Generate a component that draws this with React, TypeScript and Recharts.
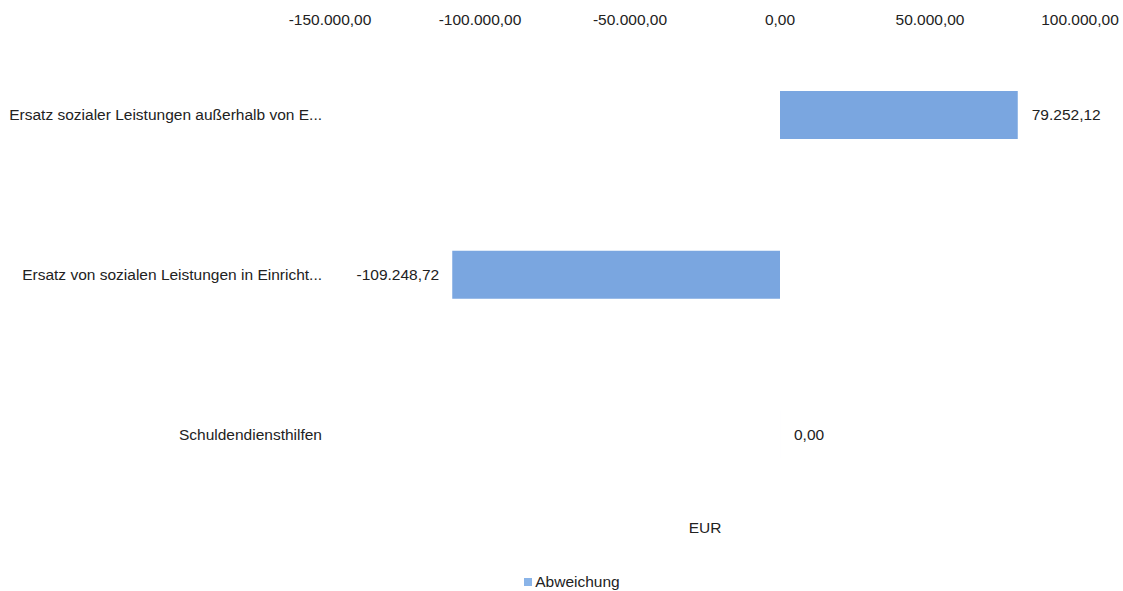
import { Bar, BarChart, LabelList, Legend, XAxis, YAxis } from "recharts";

const categories = [
  "Ersatz sozialer Leistungen außerhalb von E...",
  "Ersatz von sozialen Leistungen in Einricht...",
  "Schuldendiensthilfen",
];
const abweichung = [79252.12, -109248.72, 0];
const xTicks = [-150000, -100000, -50000, 0, 50000, 100000];

const data = categories.map((name, i) => ({ name, value: abweichung[i] }));

const fmt = (v: number) =>
  v.toLocaleString("de-DE", { minimumFractionDigits: 2, maximumFractionDigits: 2 });

const FONT = "'Liberation Sans', Arial, sans-serif";
const FS = 15.5;
const TEXT = "#222";
const BAR = "#7aa6e0";

// value label to the right of positive bars, to the left of negative ones
function ValueLabel(props: any) {
  const { x, y, width, height, value } = props;
  const left = Math.min(x, x + width);
  const right = Math.max(x, x + width);
  const neg = value < 0;
  return (
    <text
      x={neg ? left - 13 : right + 14}
      y={y + height / 2}
      dy="0.35em"
      textAnchor={neg ? "end" : "start"}
      fontSize={FS}
      fontFamily={FONT}
      fill={TEXT}
    >
      {fmt(value)}
    </text>
  );
}

function LegendBox() {
  return (
    <div style={{ display: "flex", justifyContent: "center", height: 18, lineHeight: "18px", paddingLeft: 64 }}>
      <span style={{ display: "inline-flex", alignItems: "center", fontFamily: FONT, fontSize: FS, color: TEXT }}>
        <span style={{ width: 8, height: 8, background: "#8ab4e8", marginRight: 3, display: "inline-block" }} />
        Abweichung
      </span>
    </div>
  );
}

export default function App() {
  return (
    <div style={{ position: "absolute", left: 0, top: 0, background: "#fff" }}>
      <BarChart
        width={1123}
        height={591}
        data={data}
        layout="vertical"
        margin={{ top: 0, right: 43, bottom: 0, left: 0 }}
      >
        <XAxis
          xAxisId="top"
          type="number"
          orientation="top"
          domain={[-150000, 100000]}
          ticks={xTicks}
          tickFormatter={fmt}
          axisLine={false}
          tickLine={false}
          tickMargin={4}
          height={35}
          tick={{ fontSize: FS, fontFamily: FONT, fill: TEXT }}
        />
        <XAxis
          xAxisId="bottom"
          type="number"
          orientation="bottom"
          domain={[-150000, 100000]}
          axisLine={false}
          tickLine={false}
          tick={false}
          height={59}
          label={{ value: "EUR", position: "insideTop", offset: 8, fontSize: FS, fontFamily: FONT, fill: TEXT }}
        />
        <YAxis
          type="category"
          dataKey="name"
          width={330}
          axisLine={false}
          tickLine={false}
          interval={0}
          tick={{ fontSize: FS, fontFamily: FONT, fill: TEXT }}
        />
        <Legend verticalAlign="bottom" content={<LegendBox />} />
        <Bar
          xAxisId="top"
          dataKey="value"
          name="Abweichung"
          fill={BAR}
          barSize={48}
          minPointSize={(v: number) => (v === 0 ? 0.01 : 0)}
          isAnimationActive={false}
        >
          <LabelList dataKey="value" content={<ValueLabel />} />
        </Bar>
      </BarChart>
    </div>
  );
}
